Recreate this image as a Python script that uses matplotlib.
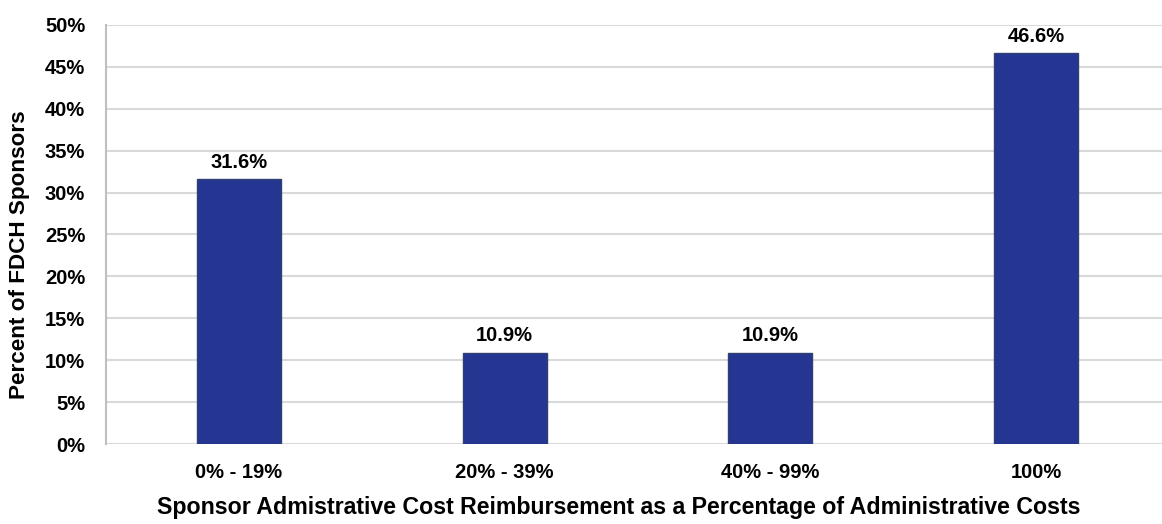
import matplotlib.pyplot as plt
from matplotlib import font_manager
from matplotlib.ticker import FuncFormatter

# Reimbursement ranges and share of sponsors in each
categories = ['0% - 19%', '20% - 39%', '40% - 99%', '100%']
percent_sponsors = [31.6, 10.9, 10.9, 46.6]
y_ticks = [0, 5, 10, 15, 20, 25, 30, 35, 40, 45, 50]

installed = {f.name for f in font_manager.fontManager.ttflist}
narrow = 'Liberation Sans Narrow' if 'Liberation Sans Narrow' in installed else 'Liberation Sans'
plt.rcParams['font.family'] = [narrow, 'DejaVu Sans']
plt.rcParams['font.weight'] = 'bold'

fig = plt.figure(figsize=(11.62, 5.24), dpi=100)
ax = fig.add_axes([106 / 1162, 1 - 444 / 524, 1063 / 1162, 419 / 524])

x = range(len(categories))
bars = ax.bar(x, percent_sponsors, width=0.316, color='#253592',
              edgecolor='#2f4170', linewidth=1, zorder=3)

for b, v in zip(bars, percent_sponsors):
    ax.annotate(f'{v:.1f}%', (b.get_x() + b.get_width() / 2, v),
                xytext=(0, 5.5), textcoords='offset points',
                ha='center', va='bottom', fontsize=14.5, fontweight='bold')

ax.set_xlim(-0.5, len(categories) - 0.5)
ax.set_ylim(0, 50)
ax.set_yticks(y_ticks)
ax.yaxis.set_major_formatter(FuncFormatter(lambda v, _: f'{v:.0f}%'))
ax.set_xticks(list(x))
ax.set_xticklabels(categories)
ax.tick_params(axis='both', length=0, labelsize=14.5)
ax.tick_params(axis='x', pad=14)
ax.tick_params(axis='y', pad=15)

ax.grid(axis='y', color='#d9d9d9', linewidth=1.5, zorder=0)
for side in ['top', 'right', 'bottom']:
    ax.spines[side].set_visible(False)
ax.spines['left'].set_color('#bfbfbf')
ax.spines['left'].set_linewidth(1.5)

ax.set_xlabel('Sponsor Admistrative Cost Reimbursement as a Percentage of Administrative Costs',
              fontsize=16.7, fontweight='bold', family=['Liberation Sans', 'DejaVu Sans'])
ax.xaxis.set_label_coords(0.482, -52 / 419)
ax.set_ylabel('Percent of FDCH Sponsors', fontsize=16.2, fontweight='bold',
              family=['Liberation Sans', 'DejaVu Sans'])
ax.yaxis.set_label_coords(-76 / 1063, 0.452)

fig.savefig('out.png', dpi=100)
